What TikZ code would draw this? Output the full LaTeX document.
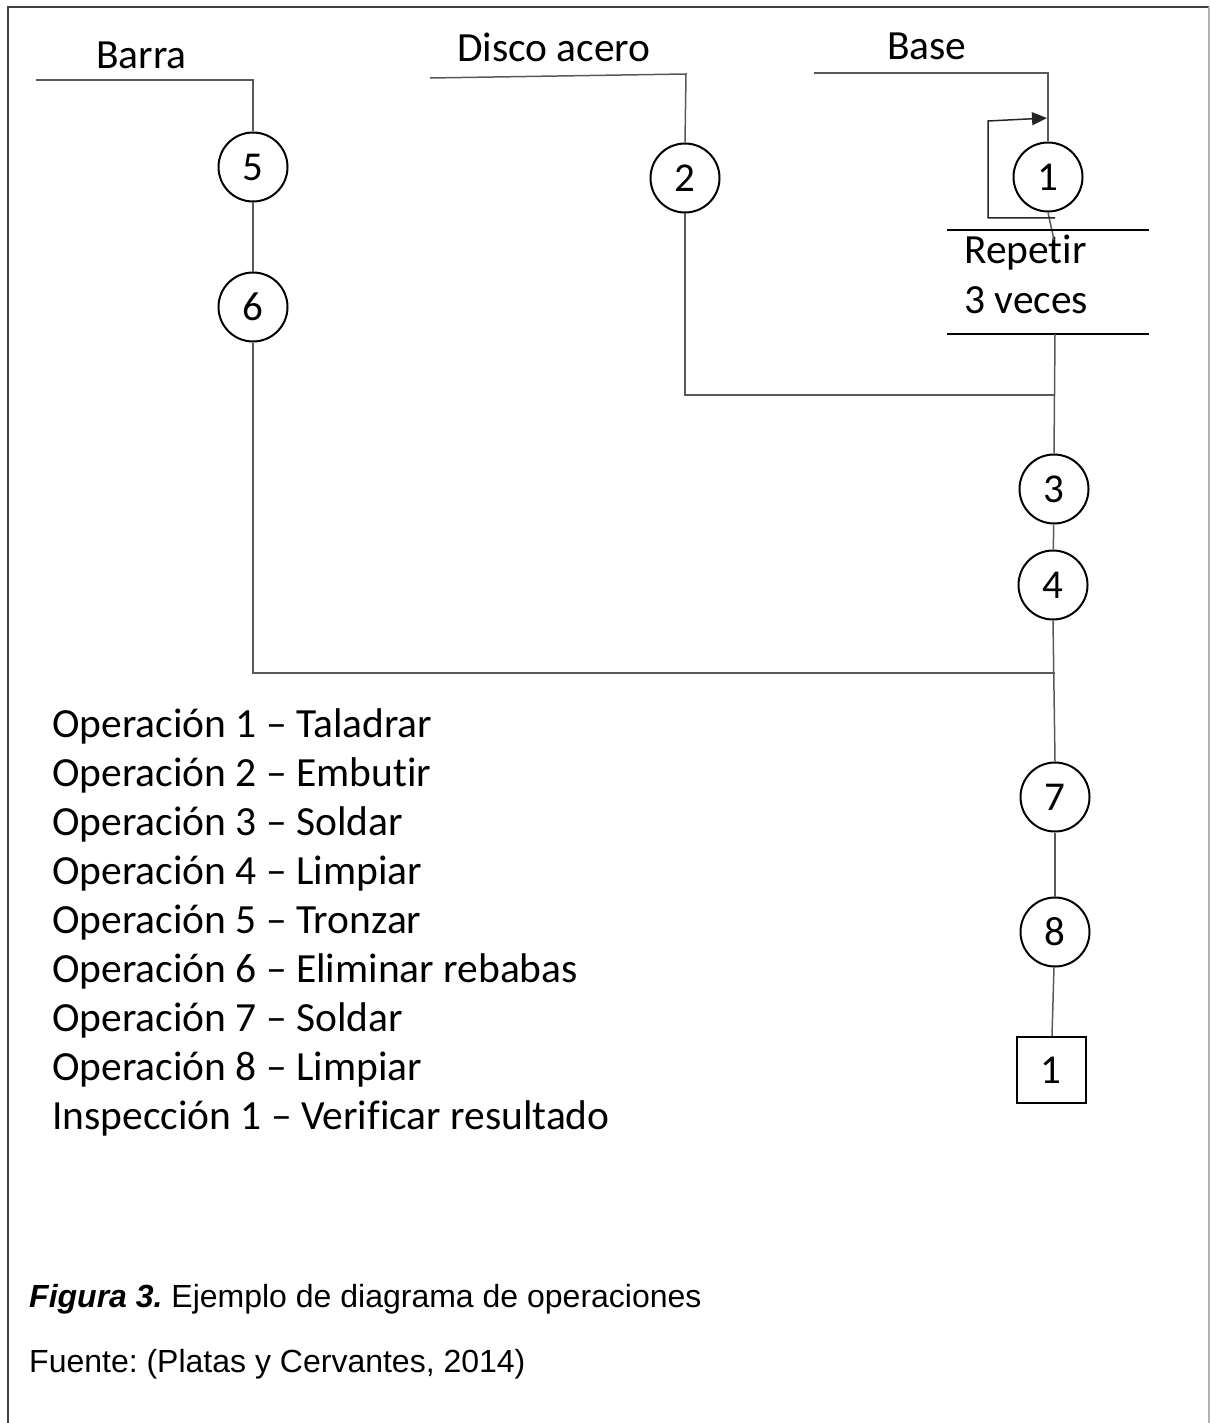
\documentclass[tikz,border=0pt]{standalone}
\usepackage{fontspec}
\setmainfont[Ligatures={NoCommon}]{Carlito}
\newfontfamily\captionfont{Liberation Sans}
\usetikzlibrary{arrows, arrows.meta, shapes, positioning, calc}
\tikzset{op/.style = {
  % Circle:
  circle, draw=black, line width=2pt,
  minimum size=69pt, inner sep=0pt,
  % Text:
  font=\fontsize{41}{48}\selectfont
  }}
\tikzset{insp/.style = {
  % Square:
  rectangle, draw=black, line width=2pt,
  minimum width=69pt, minimum height=66pt, inner sep=0pt,
  % Text:
  font=\fontsize{41}{48}\selectfont
  }}
\tikzset{txt/.style = {
  inner sep=0pt, anchor=base west,
  font=\fontsize{41.5}{48}\selectfont
  }}
\tikzset{captiontxt/.style = {
  txt,
  font=\captionfont\fontsize{32}{38}\selectfont
  }}
\tikzset{flow/.style = {
  draw=black!65,
  line width=1.5pt
  }}
\tikzset{loop/.style = {
  draw=black!85,
  line width=1.5pt,
  -{Triangle[length=15pt, width=13pt]}
  }}
\tikzset{frame/.style = {
  draw=black!75,
  line width=2pt
  }}
\frenchspacing

\begin{document}
\begin{tikzpicture}[x=1pt, y=-1pt]
  \useasboundingbox (0,0) rectangle (1210,1423);
  %
  % Specification of nodes
  %
  \node (op5) [op] at (253,167) {5};
  \node (op6) [op] at (253,307) {6};
  \node (op2) [op] at (685,178) {2};
  \node (op1) [op] at (1048,177) {1};
  \node (op3) [op] at (1054,489) {3};
  \node (op4) [op] at (1053,585) {4};
  \node (op7) [op] at (1055,797) {7};
  \node (op8) [op] at (1055,932) {8};
  \node (insp1) [insp] at (1051,1070) {1};

  \node (barra) [txt] at (96,69) {Barra};
  \node (disco) [txt] at (457,62) {Disco acero};
  \node (base) [txt] at (887,60) {Base};
  \node (repetir) [txt] at (964,263) {Repetir};
  \node (veces) [txt] at (964,313) {3 veces};

  \foreach \i/\t in {0/Operación 1 – Taladrar, 1/Operación 2 – Embutir,
      2/Operación 3 – Soldar, 3/Operación 4 – Limpiar, 4/Operación 5 – Tronzar,
      5/Operación 6 – Eliminar rebabas, 6/Operación 7 – Soldar,
      7/Operación 8 – Limpiar, 8/Inspección 1 – Verificar resultado}
    \node (list\i) [txt] at (52,{737+49.1*\i}) {\t};

  \node (caption) [captiontxt] at (29,1307)
    {{\bfseries\itshape Figura 3.} Ejemplo de diagrama de operaciones};
  \node (source) [captiontxt] at (29,1372)
    {Fuente: (Platas y Cervantes, 2014)};

  %
  % Specification of lines
  %
  \coordinate (barraL) at (36,80);
  \coordinate (discoL) at (430,78);
  \coordinate (discoR) at (686,74);
  \coordinate (baseL) at (814,73);
  \coordinate (j2) at (1055,395);
  \coordinate (j6) at (1055,673);
  \coordinate (repOut) at (1055,334);
  \coordinate (repIn) at (1054,240);

  \draw [flow] (barraL) -- (op5.north |- barraL) -- (op5.north);
  \draw [flow] (op5) -- (op6);
  \draw [flow] (op6.south) |- (j6);

  \draw [flow] (discoL) -- (discoR) -- (op2.north);
  \draw [flow] (op2.south) |- (j2);

  \draw [flow] (baseL) -- (op1.north |- baseL) -- (op1.north);
  \draw [flow] (op1.south) -- (repIn);
  \draw [loop] (1055,218) -- (988,218) -- (988,121) -- (1047,118);

  \draw [flow, draw=black] (947,230) -- (1149,230);
  \draw [flow, draw=black] (947,334) -- (1149,334);

  \draw [flow] (repOut) -- (op3.north);
  \draw [flow] (op3) -- (op4);
  \draw [flow] (op4.south) -- (op7.north);
  \draw [flow] (op7) -- (op8);
  \draw [flow] (op8) -- (insp1);

  %
  % Frame
  %
  \draw [frame] (8,1423) -- (8,7) -- (1209,7);
  \draw [frame, draw=black!30] (1209,7) -- (1209,1423);
\end{tikzpicture}
\end{document}
